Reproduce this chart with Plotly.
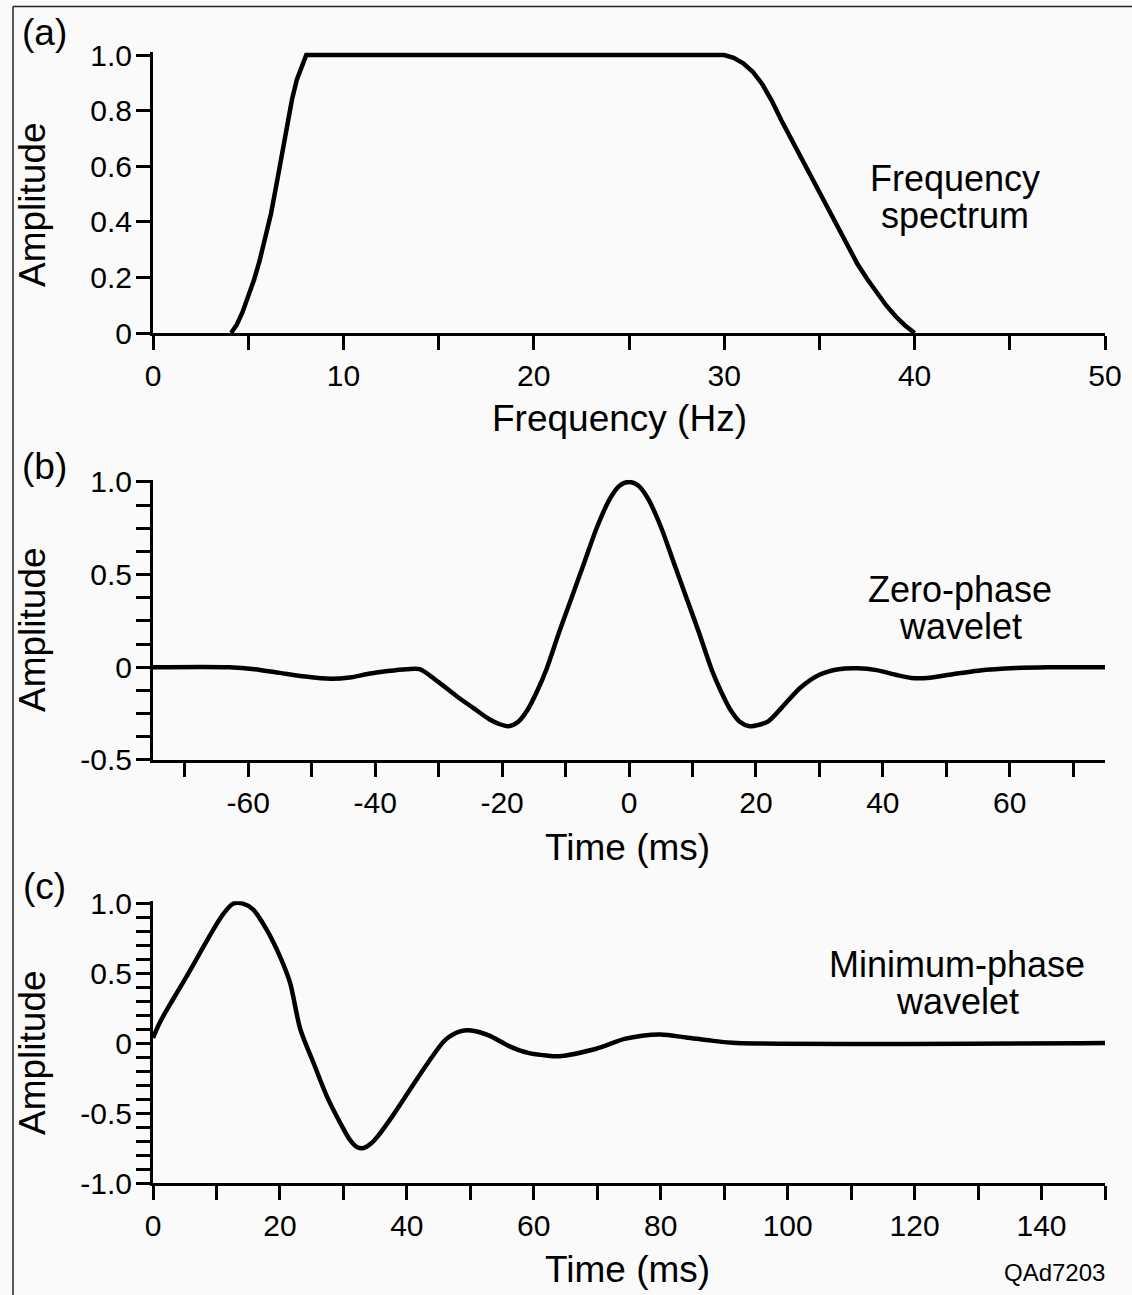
import plotly.graph_objects as go

# ---------------- data ----------------
freq_hz = [4.1, 4.4, 4.7, 5.0, 5.3, 5.6, 5.9, 6.2, 6.5, 6.8, 7.05, 7.3, 7.55, 7.8, 8.05,
           30.0, 30.5, 31.0, 31.5, 32.0, 32.5, 33.0, 33.5, 34.0, 34.5, 35.0, 35.5,
           36.0, 36.5, 37.0, 37.5, 38.0, 38.5, 39.0, 39.5, 40.0]
spectrum_amp = [0.0, 0.03, 0.075, 0.13, 0.19, 0.26, 0.34, 0.43, 0.54, 0.65, 0.75,
                0.84, 0.91, 0.96, 1.0,
                1.0, 0.99, 0.97, 0.94, 0.895, 0.835, 0.765, 0.7, 0.633, 0.566, 0.5,
                0.435, 0.37, 0.307, 0.248, 0.195, 0.145, 0.1, 0.06, 0.027, 0.0]

zero_t = [-75, -63, -59, -55, -51, -47, -44, -41, -38, -35, -33, -30, -27, -24.5,
          -22, -20.5, -19, -17.5, -16, -14.5, -13, -11, -9, -7, -5, -3, -1.5, 0,
          1.5, 3, 5, 7, 9, 11, 13, 14.5, 16, 17.5, 19, 20.5, 22, 24, 27, 30, 33,
          36, 39, 42, 44.5, 47, 51, 55, 61, 66, 75]
zero_amp = [0, 0, -0.01, -0.03, -0.05, -0.062, -0.055, -0.035, -0.02, -0.01, -0.01,
            -0.08, -0.16, -0.22, -0.28, -0.305, -0.318, -0.295, -0.23, -0.13, -0.01,
            0.19, 0.38, 0.57, 0.76, 0.91, 0.98, 1.0, 0.98, 0.91, 0.76, 0.57, 0.38,
            0.19, -0.01, -0.13, -0.23, -0.295, -0.318, -0.31, -0.29, -0.22, -0.11,
            -0.04, -0.01, -0.005, -0.015, -0.04, -0.057, -0.057, -0.037, -0.018,
            -0.004, 0, 0]

min_t = [0, 1, 3, 5.3, 7.4, 9.5, 11, 12.6, 14.2, 15.8, 17.9, 20, 21.6, 23.2, 25.3,
         27.4, 29.5, 31, 32.2, 33.2, 34.3, 35.4, 37.7, 40.5, 43.3, 46.1, 48.4, 50.1,
         52.9, 56.2, 59.1, 62, 64, 69.7, 74.3, 77.1, 80, 84, 88, 92, 150]
min_amp = [0.036, 0.14, 0.3, 0.476, 0.643, 0.81, 0.917, 0.995, 0.995, 0.952, 0.81,
           0.619, 0.429, 0.1, -0.143, -0.381, -0.571, -0.69, -0.745, -0.75, -0.72,
           -0.667, -0.524, -0.333, -0.143, 0.024, 0.083, 0.09, 0.055, -0.024,
           -0.071, -0.09, -0.095, -0.043, 0.029, 0.052, 0.06, 0.04, 0.017, 0.0, 0.0]

a_xticks = [0, 5, 10, 15, 20, 25, 30, 35, 40, 45, 50]
a_xlabels = ["0", "", "10", "", "20", "", "30", "", "40", "", "50"]
a_yticks = [0, 0.2, 0.4, 0.6, 0.8, 1.0]
a_ylabels = ["0", "0.2", "0.4", "0.6", "0.8", "1.0"]

b_xticks = [-70, -60, -50, -40, -30, -20, -10, 0, 10, 20, 30, 40, 50, 60, 70]
b_xlabels = ["", "-60", "", "-40", "", "-20", "", "0", "", "20", "", "40", "", "60", ""]
b_yticks = [-0.5, -0.375, -0.25, -0.125, 0, 0.125, 0.25, 0.375, 0.5, 0.625, 0.75, 0.875, 1.0]
b_ylabels = ["-0.5", "", "", "", "0", "", "", "", "0.5", "", "", "", "1.0"]

c_xticks = [0, 10, 20, 30, 40, 50, 60, 70, 80, 90, 100, 110, 120, 130, 140, 150]
c_xlabels = ["0", "", "20", "", "40", "", "60", "", "80", "", "100", "", "120", "", "140", ""]
c_yticks = [-1.0, -0.9, -0.8, -0.7, -0.6, -0.5, -0.4, -0.3, -0.2, -0.1, 0, 0.1, 0.2,
            0.3, 0.4, 0.5, 0.6, 0.7, 0.8, 0.9, 1.0]
c_ylabels = ["-1.0", "", "", "", "", "-0.5", "", "", "", "", "0", "", "", "", "",
             "0.5", "", "", "", "", "1.0"]

# ---------------- layout geometry (pixels) ----------------
W, H = 1132, 1295
FONT = "Liberation Sans, Arial, sans-serif"
PAD = 0.012  # extra range above top value so the curve is not clipped
X0, X1 = 153, 1105


def xdom(px0, px1):
    return [px0 / W, px1 / W]


def ydom(py_top_val, py_bot_val, vmin, vmax, pad):
    span_px = py_bot_val - py_top_val
    per = span_px / (vmax - vmin)
    top = py_top_val - pad * per
    return [1 - py_bot_val / H, 1 - top / H]


fig = go.Figure()
fig.add_trace(go.Scatter(x=freq_hz, y=spectrum_amp, mode="lines",
                         line=dict(color="black", width=4.5),
                         xaxis="x", yaxis="y", showlegend=False))
fig.add_trace(go.Scatter(x=zero_t, y=zero_amp, mode="lines",
                         line=dict(color="black", width=4.5, shape="spline", smoothing=0.8),
                         xaxis="x2", yaxis="y2", showlegend=False))
fig.add_trace(go.Scatter(x=min_t, y=min_amp, mode="lines",
                         line=dict(color="black", width=4.5, shape="spline", smoothing=0.8),
                         xaxis="x3", yaxis="y3", showlegend=False))

TICKF = dict(family=FONT, size=30, color="black")
common = dict(showline=True, linecolor="black", linewidth=3, ticks="outside",
              ticklen=14, tickwidth=2.5, tickcolor="black", showgrid=False,
              zeroline=False, tickfont=TICKF, tickmode="array", fixedrange=True,
              automargin=False)

fig.update_layout(
    width=W, height=H, autosize=False,
    margin=dict(l=0, r=0, t=0, b=0, pad=0, autoexpand=False),
    showlegend=False,
    paper_bgcolor="#fafafa", plot_bgcolor="#fafafa",
    xaxis=dict(domain=xdom(X0, X1), range=[0, 50], anchor="y",
               tickvals=a_xticks, ticktext=a_xlabels, **common),
    yaxis=dict(domain=ydom(55, 333, 0, 1, PAD), range=[0, 1 + PAD], anchor="x",
               tickvals=a_yticks, ticktext=a_ylabels, ticklabelstandoff=-2, **common),
    xaxis2=dict(domain=xdom(X0, X1), range=[-75, 75], anchor="y2",
                tickvals=b_xticks, ticktext=b_xlabels, **common),
    yaxis2=dict(domain=ydom(482, 760, -0.5, 1, PAD), range=[-0.5, 1 + PAD], anchor="x2",
                tickvals=b_yticks, ticktext=b_ylabels, ticklabelstandoff=-2, **common),
    xaxis3=dict(domain=xdom(X0, X1), range=[0, 150], anchor="y3",
                tickvals=c_xticks, ticktext=c_xlabels, **common),
    yaxis3=dict(domain=ydom(903, 1183, -1, 1, PAD), range=[-1, 1 + PAD], anchor="x3",
                tickvals=c_yticks, ticktext=c_ylabels, ticklabelstandoff=-2, **common),
)


def txt(text, x, y, size, angle=0):
    fig.add_annotation(text=text, x=x / W, y=1 - y / H, xref="paper", yref="paper",
                       showarrow=False, textangle=angle, xanchor="center", yanchor="middle",
                       font=dict(family=FONT, size=size, color="black"))


TITLE = 37
txt("Frequency (Hz)", 619, 418, TITLE)
txt("Time (ms)", 628, 847, TITLE)
txt("Time (ms)", 628, 1269, TITLE)
for yc in (205, 630, 1053):
    txt("Amplitude", 32, yc, TITLE, angle=-90)
txt("(a)", 44, 32, TITLE)
txt("(b)", 44, 466, TITLE)
txt("(c)", 44, 886, TITLE)

NOTE = 36
txt("Frequency", 955, 179, NOTE)
txt("spectrum", 955, 216, NOTE)
txt("Zero-phase", 960, 589, NOTE)
txt("wavelet", 960, 626, NOTE)
txt("Minimum-phase", 957, 964, NOTE)
txt("wavelet", 957, 1001, NOTE)
txt("QAd7203", 1054, 1272, 24)

# outer frame (top and left edges visible in the reference)
fig.add_shape(type="line", xref="paper", yref="paper", x0=13 / W, x1=1, y0=1 - 6.5 / H, y1=1 - 6.5 / H,
              line=dict(color="#222", width=1.5))
fig.add_shape(type="line", xref="paper", yref="paper", x0=13 / W, x1=13 / W, y0=0, y1=1 - 6.5 / H,
              line=dict(color="#222", width=1.5))

fig.write_html("out.html")
